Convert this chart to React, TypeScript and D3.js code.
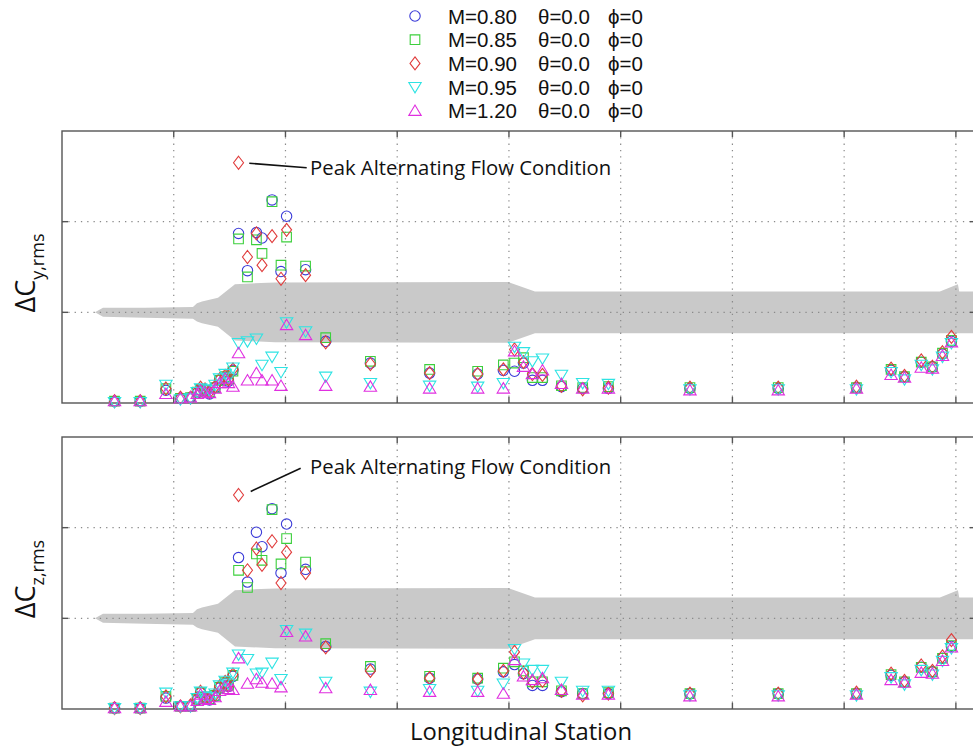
import * as d3 from "d3";

// longitudinal stations (x gridline units)
const stations = [
  0.47, 0.7, 0.93, 1.06, 1.15, 1.21, 1.24, 1.28, 1.32, 1.37, 1.41, 1.46, 1.49, 1.53,
  1.58, 1.66, 1.74, 1.79, 1.88, 1.96, 2.01, 2.18, 2.36,
  2.76, 3.29, 3.72, 3.95, 4.05, 4.13, 4.21, 4.3, 4.47, 4.66, 4.89,
  5.62, 6.41, 7.11, 7.42, 7.54, 7.69, 7.79, 7.88, 7.96,
];

// dCy,rms
const cyM080 = [
  0.02, 0.02, 0.14, 0.05, 0.06, 0.11, 0.14, 0.14, 0.1, 0.17, 0.25, 0.28, 0.24, 0.36,
  1.87, 1.46, 1.88, 1.82, 2.24, 1.45, 2.06, 1.47, 0.68,
  0.44, 0.33, 0.32, 0.36, 0.35, 0.44, 0.25, 0.25, 0.18, 0.16, 0.16,
  0.16, 0.16, 0.17, 0.36, 0.29, 0.45, 0.4, 0.54, 0.68,
];
const cyM085 = [
  0.02, 0.02, 0.16, 0.05, 0.06, 0.12, 0.15, 0.14, 0.12, 0.17, 0.25, 0.29, 0.26, 0.35,
  1.81, 1.39, 1.8, 1.65, 2.22, 1.52, 1.83, 1.51, 0.72,
  0.46, 0.37, 0.35, 0.42, 0.44, 0.5, 0.28, 0.28, 0.19, 0.17, 0.18,
  0.17, 0.17, 0.17, 0.37, 0.29, 0.45, 0.4, 0.55, 0.69,
];
const cyM090 = [
  0.02, 0.02, 0.16, 0.06, 0.06, 0.13, 0.17, 0.15, 0.12, 0.18, 0.26, 0.3, 0.26, 0.37,
  2.65, 1.61, 1.87, 1.52, 1.84, 1.37, 1.91, 1.41, 0.67,
  0.43, 0.33, 0.32, 0.37, 0.59, 0.45, 0.32, 0.31, 0.19, 0.15, 0.17,
  0.17, 0.17, 0.18, 0.38, 0.3, 0.47, 0.4, 0.56, 0.73,
];
const cyM095 = [
  0.01, 0.01, 0.2, 0.04, 0.05, 0.12, 0.16, 0.15, 0.14, 0.2, 0.27, 0.32, 0.28, 0.39,
  0.66, 0.68, 0.71, 0.42, 0.51, 0.34, 0.89, 0.79, 0.29,
  0.22, 0.19, 0.18, 0.22, 0.62, 0.56, 0.46, 0.49, 0.31, 0.22, 0.21,
  0.15, 0.15, 0.15, 0.34, 0.26, 0.42, 0.37, 0.51, 0.66,
];
const cyM120 = [
  0.02, 0.02, 0.1, 0.05, 0.06, 0.1, 0.14, 0.12, 0.11, 0.16, 0.22, 0.27, 0.22, 0.18,
  0.55, 0.25, 0.33, 0.25, 0.25, 0.19, 0.86, 0.75, 0.19,
  0.18, 0.16, 0.16, 0.16, 0.57, 0.4, 0.32, 0.36, 0.21, 0.16, 0.16,
  0.14, 0.14, 0.16, 0.31, 0.28, 0.39, 0.38, 0.52, 0.67,
];

// dCz,rms
const czM080 = [
  0.01, 0.01, 0.12, 0.03, 0.03, 0.1, 0.18, 0.12, 0.1, 0.14, 0.23, 0.28, 0.25, 0.36,
  1.67, 1.4, 1.95, 1.79, 2.21, 1.5, 2.04, 1.54, 0.69,
  0.44, 0.34, 0.33, 0.41, 0.49, 0.39, 0.26, 0.26, 0.19, 0.17, 0.17,
  0.17, 0.17, 0.17, 0.37, 0.3, 0.46, 0.41, 0.56, 0.69,
];
const czM085 = [
  0.01, 0.01, 0.14, 0.03, 0.03, 0.11, 0.18, 0.13, 0.11, 0.15, 0.24, 0.29, 0.26, 0.37,
  1.53, 1.34, 1.71, 1.64, 2.2, 1.6, 1.88, 1.62, 0.72,
  0.47, 0.36, 0.34, 0.45, 0.52, 0.42, 0.3, 0.3, 0.2, 0.17, 0.18,
  0.17, 0.17, 0.17, 0.38, 0.3, 0.46, 0.41, 0.56, 0.7,
];
const czM090 = [
  0.01, 0.01, 0.14, 0.03, 0.04, 0.12, 0.19, 0.13, 0.12, 0.16, 0.25, 0.3, 0.26, 0.38,
  2.36, 1.53, 1.77, 1.59, 1.85, 1.39, 1.73, 1.5, 0.68,
  0.42, 0.34, 0.33, 0.42, 0.63, 0.4, 0.3, 0.31, 0.2, 0.15, 0.17,
  0.17, 0.17, 0.18, 0.39, 0.31, 0.48, 0.42, 0.58, 0.76,
];
const czM095 = [
  0.01, 0.01, 0.18, 0.03, 0.03, 0.12, 0.19, 0.14, 0.13, 0.17, 0.26, 0.31, 0.28, 0.4,
  0.6, 0.55, 0.39, 0.4, 0.51, 0.33, 0.87, 0.83, 0.3,
  0.19, 0.22, 0.2, 0.28, 0.66, 0.5, 0.43, 0.43, 0.3, 0.2, 0.2,
  0.15, 0.15, 0.15, 0.35, 0.27, 0.43, 0.38, 0.53, 0.67,
];
const czM120 = [
  0.01, 0.01, 0.08, 0.03, 0.03, 0.09, 0.16, 0.11, 0.1, 0.13, 0.2, 0.25, 0.22, 0.21,
  0.56, 0.28, 0.33, 0.29, 0.28, 0.24, 0.85, 0.8, 0.23,
  0.21, 0.19, 0.19, 0.17, 0.54, 0.36, 0.32, 0.34, 0.21, 0.16, 0.16,
  0.14, 0.14, 0.16, 0.32, 0.29, 0.4, 0.39, 0.53, 0.68,
];

// vehicle outline drawn as grey band around y = 1
const bandX = [0.295, 0.367, 0.743, 1.172, 1.208, 1.253, 1.396, 1.548, 1.906, 3.991, 4.233, 7.857, 8.018, 8.03, 8.3];
const bandUpper = [1.0, 1.05, 1.05, 1.06, 1.1, 1.12, 1.16, 1.31, 1.33, 1.335, 1.23, 1.23, 1.31, 1.23, 1.23];
const bandLower = [1.0, 0.95, 0.94, 0.93, 0.9, 0.88, 0.84, 0.69, 0.67, 0.665, 0.77, 0.77, 0.77, 0.77, 0.77];

const machLabels = ["M=0.80", "M=0.85", "M=0.90", "M=0.95", "M=1.20"];
const thetaLabels = ["θ=0.0", "θ=0.0", "θ=0.0", "θ=0.0", "θ=0.0"];
const phiLabels = ["ϕ=0", "ϕ=0", "ϕ=0", "ϕ=0", "ϕ=0"];
const colors = ["#3b3bd8", "#3ccf3c", "#e03b3b", "#2ee3e3", "#e02fe0"];
const shapes = ["circle", "square", "diamond", "down", "up"];
const xTicks = [1, 2, 3, 4, 5, 6, 7, 8];
const yTicks = [1, 2];

const W = 973;
const H = 746;
const FONT = "'Open Sans', sans-serif";
const LEGEND_FONT = "'Liberation Sans', Arial, sans-serif";

const x = d3.scaleLinear().domain([0, 8.18]).range([62, 976]);

const shapePath: Record<string, string> = {
  circle: "M5.2,0A5.2,5.2 0 1,1 -5.2,0A5.2,5.2 0 1,1 5.2,0Z",
  square: "M-4.8,-4.8H4.8V4.8H-4.8Z",
  diamond: "M0,-6.5L5,0L0,6.5L-5,0Z",
  down: "M-6.2,-4.6H6.2L0,5.8Z",
  up: "M-6.2,4.6H6.2L0,-5.8Z",
};

const panels = [
  {
    top: 131,
    bottom: 403,
    series: [cyM080, cyM085, cyM090, cyM095, cyM120],
    sub: "y,rms",
    note: { x0: 1.676, y0: 2.644, x1: 2.19, y1: 2.595, tx: 2.22, ty: 2.51 },
  },
  {
    top: 437,
    bottom: 709,
    series: [czM080, czM085, czM090, czM095, czM120],
    sub: "z,rms",
    note: { x0: 1.689, y0: 2.4, x1: 2.136, y1: 2.655, tx: 2.22, ty: 2.59 },
  },
];

function Panel({ p, idx }: { p: (typeof panels)[number]; idx: number }) {
  const y = d3.scaleLinear().domain([0, 3]).range([p.bottom, p.top]);
  const [x0, x1] = x.range();
  const area = d3
    .area<number>()
    .x((_, i) => x(bandX[i]))
    .y0((_, i) => y(bandLower[i]))
    .y1((_, i) => y(bandUpper[i]));
  const clipId = `clip${idx}`;
  const axisColor = "#555";
  const gridColor = "#8a8a8a";
  const mid = (p.top + p.bottom) / 2 + 6;
  return (
    <g>
      <defs>
        <clipPath id={clipId}>
          <rect x={x0} y={p.top} width={x1 - x0} height={p.bottom - p.top} />
        </clipPath>
      </defs>
      <path d={area(bandX) ?? ""} fill="#c9c9c9" clipPath={`url(#${clipId})`} />
      {xTicks.map((t) => (
        <line key={`gx${t}`} x1={x(t)} x2={x(t)} y1={p.top} y2={p.bottom}
          stroke={gridColor} strokeWidth={1.2} strokeDasharray="1.3,5" />
      ))}
      {yTicks.map((t) => (
        <line key={`gy${t}`} x1={x0} x2={x1} y1={y(t)} y2={y(t)}
          stroke={gridColor} strokeWidth={1.2} strokeDasharray="1.3,5" />
      ))}
      {/* axes box + inward ticks */}
      <rect x={x0} y={p.top} width={x1 - x0} height={p.bottom - p.top}
        fill="none" stroke={axisColor} strokeWidth={1.4} />
      {xTicks.map((t) => (
        <g key={`tx${t}`} stroke={axisColor} strokeWidth={1.4}>
          <line x1={x(t)} x2={x(t)} y1={p.bottom} y2={p.bottom - 6} />
          <line x1={x(t)} x2={x(t)} y1={p.top} y2={p.top + 6} />
        </g>
      ))}
      {yTicks.map((t) => (
        <g key={`ty${t}`} stroke={axisColor} strokeWidth={1.4}>
          <line x1={x0} x2={x0 + 6} y1={y(t)} y2={y(t)} />
          <line x1={x1} x2={x1 - 6} y1={y(t)} y2={y(t)} />
        </g>
      ))}
      {p.series.map((vals, s) => (
        <g key={`s${s}`} fill="none" stroke={colors[s]} strokeWidth={1.1}>
          {vals.map((v, i) => (
            <path key={i} d={shapePath[shapes[s]]}
              transform={`translate(${x(stations[i])},${y(v)})`} />
          ))}
        </g>
      ))}
      <line x1={x(p.note.x0)} y1={y(p.note.y0)} x2={x(p.note.x1)} y2={y(p.note.y1)}
        stroke="#111" strokeWidth={1.6} />
      <text x={x(p.note.tx)} y={y(p.note.ty)} fontSize={20.3} fontFamily={FONT} fill="#111">
        Peak Alternating Flow Condition
      </text>
      <text transform={`translate(35,${mid}) rotate(-90)`} textAnchor="middle"
        fontFamily={FONT} fill="#111" fontSize={27}>
        ΔC
        <tspan fontSize={18} dy={9}>{p.sub}</tspan>
      </text>
    </g>
  );
}

export default function App() {
  return (
    <svg width={W} height={H} style={{ position: "absolute", left: 0, top: 0, background: "#fff" }}>
      <rect width={W} height={H} fill="#fff" />
      {panels.map((p, i) => (
        <Panel key={i} p={p} idx={i} />
      ))}
      {machLabels.map((m, i) => {
        const ly = 16 + i * 23.7;
        return (
          <g key={m}>
            <path d={shapePath[shapes[i]]} transform={`translate(415,${ly})`}
              fill="none" stroke={colors[i]} strokeWidth={1.1} />
            <text x={448} y={ly + 7.5} fontSize={20.5} fontFamily={LEGEND_FONT} fill="#111">{m}</text>
            <text x={538} y={ly + 7.5} fontSize={20.5} fontFamily={LEGEND_FONT} fill="#111">{thetaLabels[i]}</text>
            <text x={608} y={ly + 7.5} fontSize={20.5} fontFamily={LEGEND_FONT} fill="#111">{phiLabels[i]}</text>
          </g>
        );
      })}
      <text x={521} y={740} textAnchor="middle" fontSize={23.8} fontFamily={FONT} fill="#111">
        Longitudinal Station
      </text>
    </svg>
  );
}
